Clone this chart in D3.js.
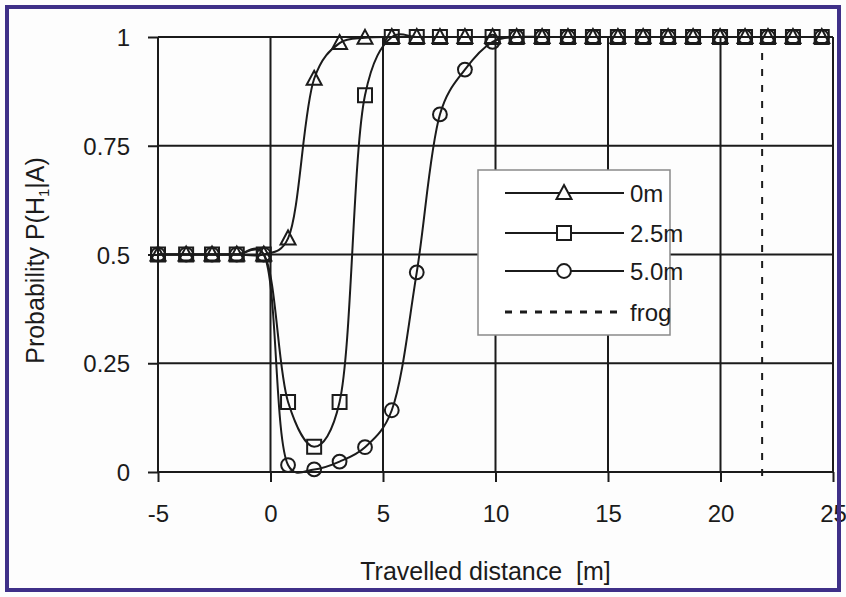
<!DOCTYPE html>
<html>
<head>
<meta charset="utf-8">
<script src="https://cdn.jsdelivr.net/npm/d3@7"></script>
<style>
  body { margin: 0; background: #fff; }
  svg { display: block; font-family: "Liberation Sans", Arial, sans-serif; }
</style>
</head>
<body>
<div id="chart"></div>
<script>
// travelled distance of each sample (m)
const distance = [-5, -3.75, -2.6, -1.5, -0.3, 0.78, 1.94, 3.07, 4.2, 5.39, 6.5, 7.53, 8.64, 9.87,
    10.94, 12.07, 13.22, 14.33, 15.44, 16.56, 17.67, 18.78, 19.98, 21.09, 22.11, 23.22, 24.5];

const p0m = [0.5, 0.5, 0.5, 0.5, 0.5, 0.537, 0.904, 0.986, 0.998, 1, 1, 1, 1, 1,
    1, 1, 1, 1, 1, 1, 1, 1, 1, 1, 1, 1, 1];
const p25m = [0.5, 0.5, 0.5, 0.5, 0.5, 0.161, 0.058, 0.161, 0.866, 1, 1, 1, 1, 1,
    1, 1, 1, 1, 1, 1, 1, 1, 1, 1, 1, 1, 1];
const p50m = [0.5, 0.5, 0.5, 0.5, 0.5, 0.016, 0.006, 0.024, 0.057, 0.142, 0.459, 0.822, 0.925, 0.989,
    1, 1, 1, 1, 1, 1, 1, 1, 1, 1, 1, 1, 1];

const frogDistance = 21.85;

const seriesNames = ["0m", "2.5m", "5.0m"];
const seriesSymbols = ["triangle", "square", "circle"];
const xTicks = [-5, 0, 5, 10, 15, 20, 25];
const xTickLabels = ["-5", "0", "5", "10", "15", "20", "25"];
const yTicks = [0, 0.25, 0.5, 0.75, 1];
const yTickLabels = ["0", "0.25", "0.5", "0.75", "1"];

const width = 846, height = 597;
const margin = {top: 37, right: 13, bottom: 125, left: 158};

const svg = d3.select("#chart").append("svg")
    .attr("width", width)
    .attr("height", height);

svg.append("rect")
    .attr("width", width).attr("height", height)
    .attr("fill", "#fdfdfd");

const x = d3.scaleLinear().domain([-5, 25]).range([margin.left, width - margin.right]);
const y = d3.scaleLinear().domain([0, 1]).range([height - margin.bottom, margin.top]);

const ink = "#1b1b1b";

// grid
const grid = svg.append("g").attr("stroke", ink).attr("stroke-width", 2);
grid.selectAll("line.v").data(xTicks).join("line")
    .attr("x1", d => x(d)).attr("x2", d => x(d))
    .attr("y1", y(0)).attr("y2", y(1));
grid.selectAll("line.h").data(yTicks).join("line")
    .attr("x1", x(-5)).attr("x2", x(25))
    .attr("y1", d => y(d)).attr("y2", d => y(d));

// axes
const xAxis = svg.append("g")
    .attr("transform", `translate(0,${y(0)})`)
    .call(d3.axisBottom(x).tickValues(xTicks).tickFormat((d, i) => xTickLabels[i])
        .tickSizeInner(10).tickSizeOuter(0).tickPadding(23));
const yAxis = svg.append("g")
    .attr("transform", `translate(${x(-5)},0)`)
    .call(d3.axisLeft(y).tickValues(yTicks).tickFormat((d, i) => yTickLabels[i])
        .tickSizeInner(10).tickSizeOuter(0).tickPadding(18));

[xAxis, yAxis].forEach(g => {
    g.select(".domain").remove();
    g.selectAll(".tick line").attr("stroke", ink).attr("stroke-width", 2);
    g.selectAll(".tick text").attr("fill", ink).attr("font-size", 24)
        .attr("font-family", "Liberation Sans, Arial, sans-serif");
});
yAxis.selectAll(".tick text").attr("dy", "0.36em");

// frog position
svg.append("line")
    .attr("x1", x(frogDistance)).attr("x2", x(frogDistance))
    .attr("y1", y(1)).attr("y2", y(0) + 10)
    .attr("stroke", ink).attr("stroke-width", 2)
    .attr("stroke-dasharray", "7,9");

// smoothed curves
const seriesValues = [p0m, p25m, p50m];
const line = d3.line()
    .x((d, i) => x(distance[i]))
    .y(d => y(d))
    .curve(d3.curveCatmullRom.alpha(0.3));

svg.append("g").selectAll("path")
    .data(seriesValues)
    .join("path")
    .attr("d", line)
    .attr("fill", "none")
    .attr("stroke", ink)
    .attr("stroke-width", 2);

function symbolPath(kind) {
    if (kind === "triangle") return "M0,-8L7.5,6L-7.5,6Z";
    if (kind === "square") return "M-7,-7H7V7H-7Z";
    return d3.symbol(d3.symbolCircle, 150)();
}

seriesValues.forEach((vals, s) => {
    svg.append("g").selectAll("path")
        .data(vals)
        .join("path")
        .attr("transform", (d, i) => `translate(${x(distance[i])},${y(d)})`)
        .attr("d", symbolPath(seriesSymbols[s]))
        .attr("fill", "none")
        .attr("stroke", ink)
        .attr("stroke-width", 2);
});

// legend
const legend = svg.append("g");
legend.append("rect")
    .attr("x", 478).attr("y", 170)
    .attr("width", 192).attr("height", 165)
    .attr("fill", "#fff")
    .attr("stroke", "#8a8a8a")
    .attr("stroke-width", 1.5);

const rowY = [193, 233, 271, 312];
seriesNames.forEach((name, i) => {
    const g = legend.append("g").attr("transform", `translate(0,${rowY[i]})`);
    g.append("line").attr("x1", 505).attr("x2", 624)
        .attr("stroke", ink).attr("stroke-width", 2);
    g.append("path").attr("transform", "translate(564,0)")
        .attr("d", symbolPath(seriesSymbols[i]))
        .attr("fill", "#fff").attr("stroke", ink).attr("stroke-width", 2);
    g.append("text").attr("x", 630).attr("dy", "0.36em")
        .attr("font-size", 24).attr("fill", ink).text(name);
});
const frogRow = legend.append("g").attr("transform", `translate(0,${rowY[3]})`);
frogRow.append("line").attr("x1", 505).attr("x2", 624)
    .attr("stroke", ink).attr("stroke-width", 3)
    .attr("stroke-dasharray", "7,8");
frogRow.append("text").attr("x", 630).attr("dy", "0.36em")
    .attr("font-size", 24).attr("fill", ink).text("frog");

// axis titles
svg.append("text")
    .attr("x", (x(-5) + x(25)) / 2 - 10).attr("y", 580)
    .attr("text-anchor", "middle")
    .attr("font-size", 25).attr("fill", ink)
    .style("white-space", "pre")
    .text("Travelled distance  [m]");

const yTitle = svg.append("text")
    .attr("transform", `translate(44,${(y(0) + y(1)) / 2 + 6}) rotate(-90)`)
    .attr("text-anchor", "middle")
    .attr("font-size", 25).attr("fill", ink);
yTitle.append("tspan").text("Probability P(H");
yTitle.append("tspan").attr("font-size", 15).attr("dy", 5).text("1");
yTitle.append("tspan").attr("dy", -5).text("|A)");

// purple frame round the whole figure
svg.append("rect")
    .attr("x", 7).attr("y", 7)
    .attr("width", width - 14).attr("height", height - 14)
    .attr("fill", "none")
    .attr("stroke", "#3f3088")
    .attr("stroke-width", 4);
</script>
</body>
</html>
